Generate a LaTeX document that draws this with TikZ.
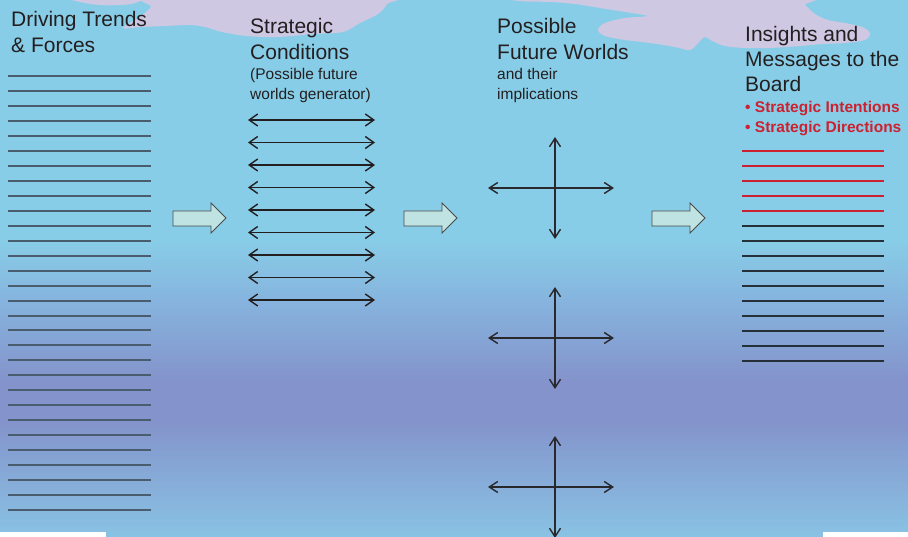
\documentclass[tikz,border=0pt]{standalone}
\usepackage{fontspec}
\setmainfont{Liberation Sans}
\usetikzlibrary{arrows.meta}
\definecolor{sky}{HTML}{88CDE7}
\definecolor{bgmid}{HTML}{86B4DE}
\definecolor{bgpurple}{HTML}{8493CB}
\definecolor{bgbot}{HTML}{89C3E4}
\definecolor{cloudc}{HTML}{CEC8E3}
\definecolor{txt}{HTML}{231F20}
\definecolor{redc}{HTML}{CC2130}
\definecolor{lline}{HTML}{4A5D6E}
\definecolor{rline}{HTML}{263038}
\definecolor{afill}{HTML}{BFE3E3}
\definecolor{aedge}{HTML}{4A4A4A}
\tikzset{
  head/.style={font=\fontsize{21}{25}\selectfont, text=txt, anchor=base west, inner sep=0pt},
  sub/.style={font=\fontsize{15.5}{20}\selectfont, text=txt, anchor=base west, inner sep=0pt},
  redsub/.style={font=\fontsize{15.5}{20}\selectfont\bfseries, text=redc, anchor=base west, inner sep=0pt},
  leftline/.style={draw=lline, line width=2pt},
  redline/.style={draw=redc, line width=2pt},
  darkline/.style={draw=rline, line width=1.5pt},
  dbl/.style={draw=txt, line width=1.4pt, {Straight Barb[length=8.5pt,width=12pt]}-{Straight Barb[length=8.5pt,width=12pt]}},
  crossarr/.style={draw=txt!85!lline, line width=1.4pt, {Straight Barb[length=8.5pt,width=11pt]}-{Straight Barb[length=8.5pt,width=11pt]}},
  blockarrow/.style={fill=afill, draw=aedge, line width=0.8pt, line join=miter},
  cloud/.style={fill=cloudc, draw=none}
}
\begin{document}
\begin{tikzpicture}[x=1pt,y=-1pt]
\useasboundingbox (0,0) rectangle (908,537);
% background gradient
\fill[sky] (-1,-1) rectangle (909,241);
\shade[top color=sky, bottom color=bgmid] (-1,240) rectangle (909,301);
\shade[top color=bgmid, bottom color=bgpurple] (-1,300) rectangle (909,381);
\fill[bgpurple] (-1,380) rectangle (909,421);
\shade[top color=bgpurple, bottom color=bgbot] (-1,420) rectangle (909,538);
\fill[white] (-1,532) rectangle (106,538);
\fill[white] (823,532) rectangle (909,538);
% clouds
\fill[cloud] plot[smooth cycle, tension=0.6] coordinates {(66,-4) (80,2) (100,5) (120,5) (135,3) (143,-4)};
\fill[cloud] plot[smooth cycle, tension=0.55] coordinates {(156,-4) (151,7) (140,17) (123,28) (140,27) (165,26) (190,25) (205,27) (222,32) (247,36) (277,37) (313,34) (343,32) (360,23) (378,14) (387,4) (386,-4)};
\fill[cloud] plot[smooth cycle, tension=0.55] coordinates {(505,-4) (520,1) (550,2) (575,4) (600,8) (625,12) (647,16) (625,18) (605,23) (598,30) (605,36) (625,40) (650,43) (675,47) (690,50) (698,43) (705,37) (712,41) (725,46) (745,48) (770,48) (800,46) (823,44) (845,43) (865,40) (870,33) (862,27) (845,23) (828,20) (815,14) (805,5) (796,-4)};
% headings
\node[head] (h1a) at (11,27) {Driving Trends};
\node[head] (h1b) at (11,53) {\& Forces};
\node[head] (h2a) at (250,34) {Strategic};
\node[head] (h2b) at (250,60) {Conditions};
\node[sub] (h2c) at (250,80) {(Possible future};
\node[sub] (h2d) at (250,100) {worlds generator)};
\node[head] (h3a) at (497,34) {Possible};
\node[head] (h3b) at (497,60) {Future Worlds};
\node[sub] (h3c) at (497,80) {and their};
\node[sub] (h3d) at (497,100) {implications};
\node[head] (h4a) at (745,42) {Insights and};
\node[head] (h4b) at (745,67) {Messages to the};
\node[head] (h4c) at (745,92) {Board};
\node[redsub] (h4d) at (745,113) {• Strategic Intentions};
\node[redsub] (h4e) at (745,133) {• Strategic Directions};
% left lines
\foreach \i in {0,...,29} \draw[leftline] (8,{76+14.97*\i}) -- (151,{76+14.97*\i});
% right lines
\foreach \i in {0,...,4} \draw[redline] (742,{151+15*\i}) -- (884,{151+15*\i});
\foreach \i in {5,...,14} \draw[darkline] (742,{151+15*\i}) -- (884,{151+15*\i});
% double arrows
\foreach \i in {0,...,8} {
  \coordinate (dl\i) at (248,{120+22.5*\i});
  \coordinate (dr\i) at (375,{120+22.5*\i});
  \draw[dbl] (dl\i) -- (dr\i);
}
% crosses
\foreach \n/\cy in {1/188,2/338,3/487} {
  \coordinate (cl\n) at (488,\cy);
  \coordinate (cr\n) at (614,\cy);
  \coordinate (ct\n) at (555,\cy-51);
  \coordinate (cb\n) at (555,\cy+51);
  \draw[crossarr] (cl\n) -- (cr\n);
  \draw[crossarr] (ct\n) -- (cb\n);
}
% block arrows
\foreach \bx in {173,404,652} {
  \draw[blockarrow] (\bx,211) -- (\bx+38,211) -- (\bx+38,203) -- (\bx+53,218) -- (\bx+38,233) -- (\bx+38,226) -- (\bx,226) -- cycle;
}
\end{tikzpicture}
\end{document}
